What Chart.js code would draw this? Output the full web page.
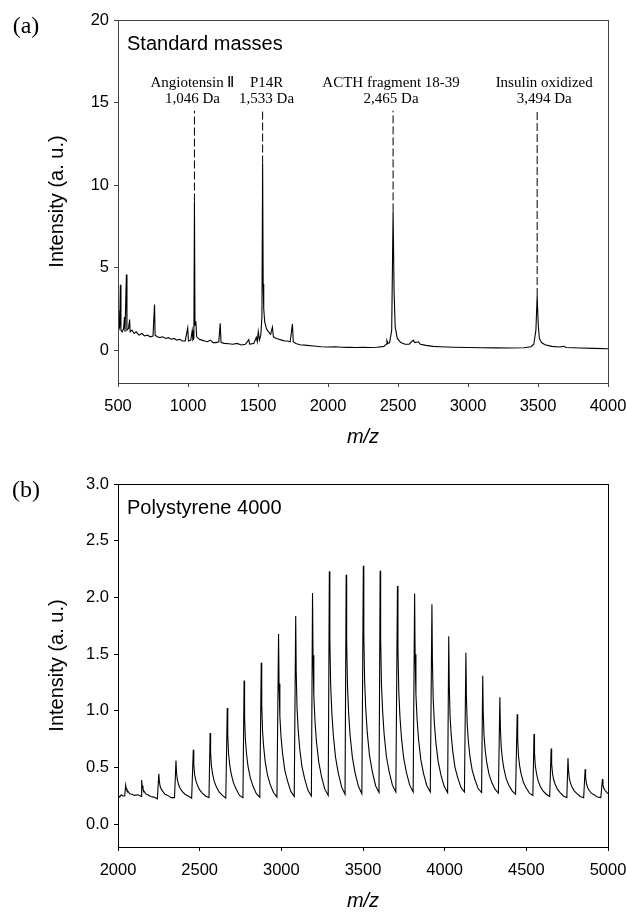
<!DOCTYPE html>
<html lang="en">
<head>
<meta charset="UTF-8">
<title>Mass spectra</title>
<script src="https://cdn.jsdelivr.net/npm/chart.js"></script>
<style>
  body { margin: 0; background: #fff; }
  .panel { position: absolute; left: 0; width: 627px; }
  #panelA { top: 0; height: 455px; }
  #panelB { top: 455px; height: 457px; }
</style>
</head>
<body>
<div class="panel" id="panelA"><canvas id="chartA" width="627" height="455"></canvas></div>
<div class="panel" id="panelB"><canvas id="chartB" width="627" height="457"></canvas></div>
<script>
// (a) standard masses spectrum
const massA = [500,503,507,512,517,521,530,540,546,550,
  560,564,575,583,587,600,615,630,650,670,
  690,710,730,750,761,765,780,800,820,840,
  860,880,900,920,940,960,980,998,1003,1020,
  1030,1035,1042,1046,1050,1056,1062,1080,1100,1120,
  1140,1160,1180,1200,1220,1230,1236,1260,1290,1320,
  1350,1380,1410,1434,1440,1470,1488,1495,1502,1510,
  1520,1528,1533,1537,1541,1548,1560,1575,1590,1603,
  1610,1630,1650,1670,1690,1710,1730,1746,1752,1770,
  1800,1850,1900,1950,2000,2050,2100,2150,2200,2250,
  2300,2350,2400,2415,2421,2428,2440,2455,2465,2472,
  2480,2495,2520,2550,2580,2608,2620,2645,2660,2700,
  2750,2800,2900,3000,3100,3200,3300,3400,3450,3470,
  3485,3494,3502,3510,3525,3550,3600,3650,3684,3700,
  3800,3900,4000];
const intensityA = [1.6,2.4,1.2,1.4,3.95,1.2,1.1,1.3,2.0,1.1,
  4.58,1.2,1.3,1.85,1.1,1.2,1.0,1.1,0.9,1.0,
  0.85,0.9,0.8,0.85,2.76,0.9,0.8,0.75,0.8,0.7,
  0.75,0.65,0.7,0.6,0.65,0.55,0.55,1.34,0.55,0.6,
  1.18,0.6,0.7,9.0,1.5,1.74,0.8,0.65,0.6,0.55,
  0.5,0.6,0.45,0.45,0.5,1.62,0.45,0.4,0.38,0.35,
  0.4,0.3,0.35,0.63,0.35,0.4,0.77,0.5,1.12,0.6,
  0.9,2.0,11.3,4.0,2.5,1.7,1.3,1.1,0.95,1.38,
  0.8,0.7,0.65,0.6,0.55,0.55,0.5,1.58,0.5,0.4,
  0.32,0.28,0.24,0.2,0.18,0.2,0.17,0.16,0.15,0.16,
  0.15,0.17,0.22,0.35,0.57,0.4,0.45,1.2,8.4,3.5,
  1.4,0.7,0.45,0.35,0.35,0.6,0.45,0.5,0.35,0.28,
  0.22,0.2,0.17,0.15,0.14,0.13,0.12,0.14,0.2,0.35,
  1.2,3.27,1.5,0.7,0.45,0.32,0.22,0.18,0.22,0.15,
  0.12,0.1,0.08];

// labelled calibrants
const standardNames = ['Angiotensin \u2161', 'P14R', 'ACTH fragment 18-39', 'Insulin oxidized'];
const standardMasses = ['1,046 Da', '1,533 Da', '2,465 Da', '3,494 Da'];
const standardMz = [1046, 1533, 2465, 3494];
const markerTop = 14.5;

// (b) polystyrene 4000, one row per oligomer peak
const massB = [2000,2010,2020,2030,2041,
  2047,2050,2055,2062,2071,2085,2102,2122,2143,
  2145,2148,2153,2160,2169,2183,2200,2220,2241,
  2250,2253,2258,2265,2274,2288,2305,2325,2346,
  2355,2358,2363,2370,2379,2393,2410,2430,2451,
  2461,2464,2469,2476,2485,2499,2516,2536,2557,
  2564,2567,2572,2579,2588,2602,2619,2639,2660,
  2669,2672,2677,2684,2693,2707,2724,2744,2765,
  2772,2775,2780,2787,2796,2810,2827,2847,2868,
  2877,2880,2885,2892,2901,2915,2932,2952,2973,
  2983,2986,2991,2998,3007,3021,3038,3058,3079,
  3088,3091,3096,3103,3112,3126,3143,3163,3184,
  3191,3194,3199,3206,3215,3229,3246,3266,3287,
  3294,3297,3302,3309,3318,3332,3349,3369,3390,
  3397,3400,3405,3412,3421,3435,3452,3472,3493,
  3502,3505,3510,3517,3526,3540,3557,3577,3598,
  3605,3608,3613,3620,3629,3643,3660,3680,3701,
  3711,3714,3719,3726,3735,3749,3766,3786,3807,
  3816,3819,3824,3831,3840,3854,3871,3891,3912,
  3922,3925,3930,3937,3946,3960,3977,3997,4018,
  4025,4028,4033,4040,4049,4063,4080,4100,4121,
  4130,4133,4138,4145,4154,4168,4185,4205,4226,
  4233,4236,4241,4248,4257,4271,4288,4308,4329,
  4338,4341,4346,4353,4362,4376,4393,4413,4434,
  4444,4447,4452,4459,4468,4482,4499,4519,4540,
  4547,4550,4555,4562,4571,4585,4602,4622,4643,
  4652,4655,4660,4667,4676,4690,4707,4727,4748,
  4755,4758,4763,4770,4779,4793,4810,4830,4851,
  4860,4863,4868,4875,4884,4898,4915,4935,4956,
  4966,4969,4974,4981,4990,5000];
const intensityB = [.26,.24,.26,.25,.25,
  .345,.315,.295,.29,.27,.265,.255,.26,.245,
  .39,.34,.31,.29,.27,.26,.245,.24,.225,
  .445,.38,.335,.31,.29,.265,.255,.235,.235,
  .563,.46,.395,.355,.32,.29,.265,.25,.23,
  .657,.53,.44,.39,.35,.305,.275,.25,.235,
  .805,.63,.515,.445,.385,.33,.285,.255,.23,
  1.026,.785,.62,.525,.445,.365,.31,.255,.235,
  1.267,.95,.745,.62,.51,.41,.335,.27,.24,
  1.424,1.06,.82,.68,.555,.435,.35,.28,.24,
  1.677,1.24,.95,.775,.63,.48,.38,.29,.245,
  1.837,1.35,1.03,.835,.675,.51,.40,.30,.25,
  2.04,1.49,1.13,.91,.73,.55,.42,.31,.255,
  2.23,1.63,1.23,.99,.79,.59,.45,.33,.265,
  2.20,1.61,1.22,.98,.785,.59,.45,.335,.27,
  2.28,1.67,1.26,1.015,.81,.605,.465,.34,.28,
  2.235,1.64,1.24,1.0,.80,.60,.465,.345,.285,
  2.10,1.545,1.175,.955,.77,.585,.455,.345,.285,
  2.035,1.50,1.145,.93,.75,.57,.445,.34,.285,
  1.94,1.435,1.095,.89,.725,.555,.435,.335,.28,
  1.657,1.235,.955,.79,.65,.505,.41,.325,.285,
  1.512,1.135,.885,.735,.605,.48,.395,.315,.28,
  1.31,.995,.785,.655,.55,.445,.37,.31,.275,
  1.12,.86,.685,.58,.495,.405,.345,.295,.265,
  .97,.75,.605,.515,.445,.37,.32,.275,.255,
  .796,.63,.515,.45,.39,.335,.295,.265,.245,
  .669,.535,.45,.395,.355,.31,.28,.25,.235,
  .584,.48,.405,.365,.33,.295,.27,.245,.235,
  .486,.41,.36,.325,.30,.275,.26,.24,.235,
  .398,.35,.32,.30,.285,.27];

const xTicksA = [500, 1000, 1500, 2000, 2500, 3000, 3500, 4000];
const yTicksA = [0, 5, 10, 15, 20];
const xTicksB = [2000, 2500, 3000, 3500, 4000, 4500, 5000];
const yTicksB = [0, 0.5, 1, 1.5, 2, 2.5, 3];

if (massA.length !== intensityA.length || massB.length !== intensityB.length) {
  throw new Error('length mismatch ' + massA.length + '/' + intensityA.length + ' ' + massB.length + '/' + intensityB.length);
}

const SANS = 'Arial, "Liberation Sans", sans-serif';
const SERIF = '"Times New Roman", "Liberation Serif", serif';

const toPoints = (xs, ys) => xs.map((x, i) => ({ x: x, y: ys[i] }));

// frame, panel letter and caption
const panelDecor = {
  id: 'panelDecor',
  afterDraw(chart, args, opts) {
    const { ctx, chartArea: a } = chart;
    ctx.save();
    ctx.strokeStyle = opts.frameColor;
    ctx.lineWidth = 1;
    ctx.strokeRect(Math.round(a.left) + 0.5, Math.round(a.top) + 0.5,
      Math.round(a.right - a.left), Math.round(a.bottom - a.top));
    ctx.fillStyle = '#000';
    ctx.textBaseline = 'middle';
    ctx.textAlign = 'center';
    ctx.font = '24px ' + SERIF;
    ctx.fillText(opts.letter, 26, a.top + 7);
    ctx.textAlign = 'left';
    ctx.textBaseline = 'alphabetic';
    ctx.font = '20px ' + SANS;
    ctx.fillText(opts.caption, a.left + 9, a.top + 30);
    ctx.restore();
  }
};

// names above the dashed markers
const peakLabels = {
  id: 'peakLabels',
  afterDatasetsDraw(chart, args, opts) {
    if (!opts.names) return;
    const { ctx, scales: { x, y } } = chart;
    ctx.save();
    ctx.font = '15px ' + SERIF;
    ctx.fillStyle = '#000';
    ctx.textAlign = 'center';
    ctx.textBaseline = 'alphabetic';
    const py = y.getPixelForValue(opts.top);
    opts.names.forEach((name, i) => {
      const px = x.getPixelForValue(opts.mz[i]) + opts.shift[i];
      ctx.fillText(name, px, py - 24);
      ctx.fillText(opts.masses[i], px, py - 8);
    });
    ctx.restore();
  }
};

function spectrumChart(id, cfg) {
  const tickFont = { family: SANS, size: 16.5 };
  return new Chart(document.getElementById(id), {
    type: 'line',
    data: { datasets: cfg.datasets },
    options: {
      responsive: false,
      animation: false,
      parsing: false,
      layout: { padding: { top: cfg.padTop, right: 19, left: 0, bottom: 0 } },
      elements: {
        point: { radius: 0 },
        line: { borderWidth: 1.1, borderColor: '#000', tension: 0 }
      },
      plugins: {
        legend: { display: false },
        tooltip: { enabled: false },
        panelDecor: cfg.decor,
        peakLabels: cfg.labels || {}
      },
      scales: {
        x: {
          type: 'linear',
          min: cfg.xTicks[0],
          max: cfg.xTicks[cfg.xTicks.length - 1],
          afterBuildTicks: s => { s.ticks = cfg.xTicks.map(v => ({ value: v })); },
          afterFit: s => { s.height = cfg.xHeight; s.paddingLeft = 0; s.paddingRight = 0; },
          ticks: { color: '#000', font: tickFont, padding: 10, maxRotation: 0, autoSkip: false, callback: v => String(v) },
          grid: { drawOnChartArea: false, tickLength: 4, color: cfg.decor.frameColor },
          border: { color: cfg.decor.frameColor },
          title: {
            display: true, text: 'm/z', color: '#000',
            font: { family: SANS, size: 20, style: 'italic', lineHeight: 1 },
            padding: { top: 0, bottom: cfg.titlePad }
          }
        },
        y: {
          type: 'linear',
          min: cfg.yMin,
          max: cfg.yTicks[cfg.yTicks.length - 1],
          afterBuildTicks: s => { s.ticks = cfg.yTicks.map(v => ({ value: v })); },
          afterFit: s => { s.width = 118; s.paddingTop = 0; s.paddingBottom = 0; },
          ticks: { color: '#000', font: tickFont, padding: 5, callback: v => v.toFixed(cfg.decimals) },
          grid: { drawOnChartArea: false, tickLength: 4, color: cfg.decor.frameColor },
          border: { color: cfg.decor.frameColor },
          title: {
            display: true, text: 'Intensity (a. u.)', color: '#000',
            font: { family: SANS, size: 20, lineHeight: 1 },
            padding: { top: 47, bottom: 0 }
          }
        }
      }
    },
    plugins: [panelDecor, peakLabels]
  });
}

const markerSets = standardMz.map(mz => ({
  data: [{ x: mz, y: intensityA[massA.indexOf(mz)] }, { x: mz, y: markerTop }],
  borderColor: '#000',
  borderWidth: 1,
  borderDash: [8, 3]
}));

spectrumChart('chartA', {
  datasets: [{ data: toPoints(massA, intensityA) }].concat(markerSets),
  xTicks: xTicksA, yTicks: yTicksA, yMin: -2, decimals: 0,
  padTop: 20, xHeight: 72, titlePad: 8,
  decor: { letter: '(a)', caption: 'Standard masses', frameColor: '#444' },
  labels: { names: standardNames, masses: standardMasses, mz: standardMz, top: markerTop, shift: [-2, 4, -2, 7] }
});

spectrumChart('chartB', {
  datasets: [{ data: toPoints(massB, intensityB) }],
  xTicks: xTicksB, yTicks: yTicksB, yMin: -0.2, decimals: 1,
  padTop: 29, xHeight: 65, titlePad: 1,
  decor: { letter: '(b)', caption: 'Polystyrene 4000', frameColor: '#000' }
});
</script>
</body>
</html>
